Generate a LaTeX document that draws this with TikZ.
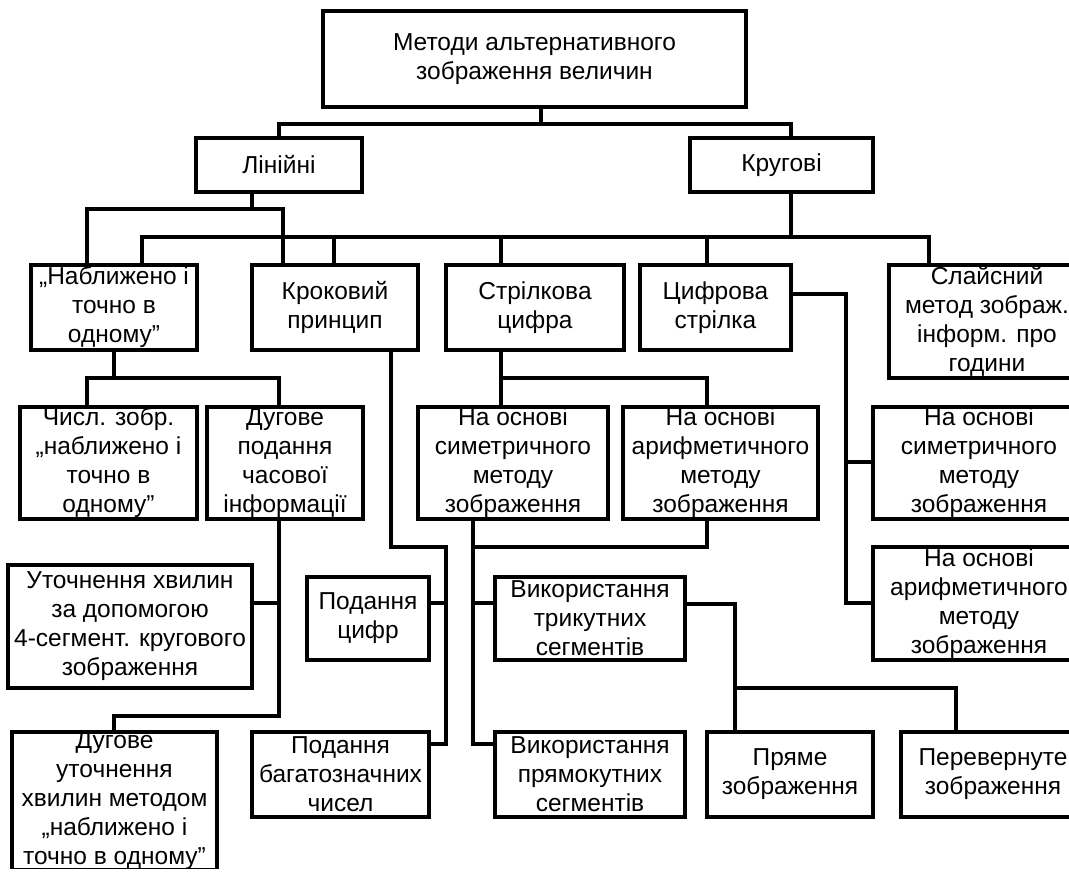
\documentclass[tikz,border=0pt]{standalone}
\usepackage{fontspec}
\setmainfont{Liberation Sans}
\begin{document}
\begin{tikzpicture}[x=1pt,y=-1pt,
  box/.style={draw,line width=3.6pt,inner sep=0pt,align=center,font=\fontsize{24.5}{29}\selectfont},
  conn/.style={line width=3.6pt}]
\useasboundingbox[fill=white] (0,0) rectangle (1069,872);
\clip (0,0) rectangle (1069,868);
% boxes
\node[box,minimum width=423pt,minimum height=96pt] (top) at (534.5,59) {Методи альтернативного\\зображення величин};
\node[box,minimum width=166pt,minimum height=54pt] (lin) at (279,165) {Лінійні};
\node[box,minimum width=183pt,minimum height=54pt] (kru) at (781.5,165) {Кругові};
\node[box,minimum width=166pt,minimum height=85pt] (nabl) at (114,307.5) {„Наближено і\\точно в\\одному”};
\node[box,minimum width=166pt,minimum height=85pt] (krok) at (335,307.5) {Кроковий\\принцип};
\node[box,minimum width=178pt,minimum height=85pt] (stril) at (535,307.5) {Стрілкова\\цифра};
\node[box,minimum width=151pt,minimum height=85pt] (cyfr) at (715.5,307.5) {Цифрова\\стрілка};
\node[box,minimum width=196pt,minimum height=113pt] (slai) at (987,321.5) {Слайсний\\метод зображ.\\інформ. про\\години};
\node[box,minimum width=177pt,minimum height=112pt] (chysl) at (108.5,463) {Числ. зобр.\\„наближено і\\точно в\\одному”};
\node[box,minimum width=156pt,minimum height=112pt] (dugp) at (285,463) {Дугове\\подання\\часової\\інформації};
\node[box,minimum width=190pt,minimum height=112pt] (sym1) at (513,463) {На основі\\симетричного\\методу\\зображення};
\node[box,minimum width=195pt,minimum height=112pt] (ary1) at (720.5,463) {На основі\\арифметичного\\методу\\зображення};
\node[box,minimum width=212pt,minimum height=112pt] (sym2) at (979,463) {На основі\\симетричного\\методу\\зображення};
\node[box,minimum width=212pt,minimum height=113pt] (ary2) at (979,603.5) {На основі\\арифметичного\\методу\\зображення};
\node[box,minimum width=244pt,minimum height=123pt] (utoch) at (130,626.5) {Уточнення хвилин\\за допомогою\\4-сегмент. кругового\\зображення};
\node[box,minimum width=122pt,minimum height=83pt] (podc) at (368,618.5) {Подання\\цифр};
\node[box,minimum width=190pt,minimum height=83pt] (tryk) at (590,618.5) {Використання\\трикутних\\сегментів};
\node[box,minimum width=205pt,minimum height=138pt] (dugu) at (114.5,801) {Дугове\\уточнення\\хвилин методом\\„наближено і\\точно в одному”};
\node[box,minimum width=177pt,minimum height=85pt] (podb) at (340.5,774.5) {Подання\\багатозначних\\чисел};
\node[box,minimum width=190pt,minimum height=85pt] (pryam) at (590,774.5) {Використання\\прямокутних\\сегментів};
\node[box,minimum width=166pt,minimum height=85pt] (pryame) at (790,774.5) {Пряме\\зображення};
\node[box,minimum width=184pt,minimum height=85pt] (perev) at (993,774.5) {Перевернуте\\зображення};
% junction points
\coordinate (jA) at (541,124);
\coordinate (a1) at (279,124); \coordinate (a2) at (791,124);
\coordinate (b0) at (252,209); \coordinate (b1) at (87,209); \coordinate (b2) at (283,209);
\coordinate (c0) at (791,237); \coordinate (c1) at (142,237); \coordinate (c2) at (334,237);
\coordinate (c3) at (501,237); \coordinate (c4) at (707,237); \coordinate (c5) at (929,237);
\coordinate (d0) at (114,378); \coordinate (d1) at (87,378); \coordinate (d2) at (279,378);
\coordinate (e1) at (501,378); \coordinate (e2) at (707,378);
\coordinate (f0) at (391,547); \coordinate (f1) at (446,547); \coordinate (f2) at (446,603); \coordinate (f3) at (446,744);
\coordinate (g0) at (279,603); \coordinate (g1) at (279,716); \coordinate (g2) at (114,716);
\coordinate (h1) at (473,547); \coordinate (h2) at (707,547); \coordinate (h3) at (473,603); \coordinate (h4) at (473,744);
\coordinate (i1) at (735,604); \coordinate (i2) at (735,688); \coordinate (i3) at (956,688);
\coordinate (k1) at (846,294); \coordinate (k2) at (846,462); \coordinate (k3) at (846,603);
% connectors
\draw[conn] (top.south -| jA) -- (jA);
\draw[conn] (lin.north -| a1) -- (a1) -- (a2) -- (kru.north -| a2);
\draw[conn] (lin.south -| b0) -- (b0);
\draw[conn] (nabl.north -| b1) -- (b1) -- (b2) -- (krok.north -| b2);
\draw[conn] (kru.south -| c0) -- (c0);
\draw[conn] (nabl.north -| c1) -- (c1) -- (c5) -- (slai.north -| c5);
\draw[conn] (c2) -- (krok.north -| c2);
\draw[conn] (c3) -- (stril.north -| c3);
\draw[conn] (c4) -- (cyfr.north -| c4);
\draw[conn] (nabl.south -| d0) -- (d0);
\draw[conn] (chysl.north -| d1) -- (d1) -- (d2) -- (dugp.north -| d2);
\draw[conn] (stril.south -| e1) -- (e1) -- (e2) -- (ary1.north -| e2);
\draw[conn] (e1) -- (sym1.north -| e1);
\draw[conn] (krok.south -| f0) -- (f0) -- (f1) -- (f3) -- (podb.east |- f3);
\draw[conn] (f2) -- (podc.east |- f2);
\draw[conn] (dugp.south -| g0) -- (g1) -- (g2) -- (dugu.north -| g2);
\draw[conn] (g0) -- (utoch.east |- g0);
\draw[conn] (sym1.south -| h1) -- (h1) -- (h4) -- (pryam.west |- h4);
\draw[conn] (ary1.south -| h2) -- (h2) -- (h1);
\draw[conn] (h3) -- (tryk.west |- h3);
\draw[conn] (tryk.east |- i1) -- (i1) -- (pryame.north -| i1);
\draw[conn] (i2) -- (i3) -- (perev.north -| i3);
\draw[conn] (cyfr.east |- k1) -- (k1) -- (k3) -- (ary2.west |- k3);
\draw[conn] (k2) -- (sym2.west |- k2);
\end{tikzpicture}
\end{document}
